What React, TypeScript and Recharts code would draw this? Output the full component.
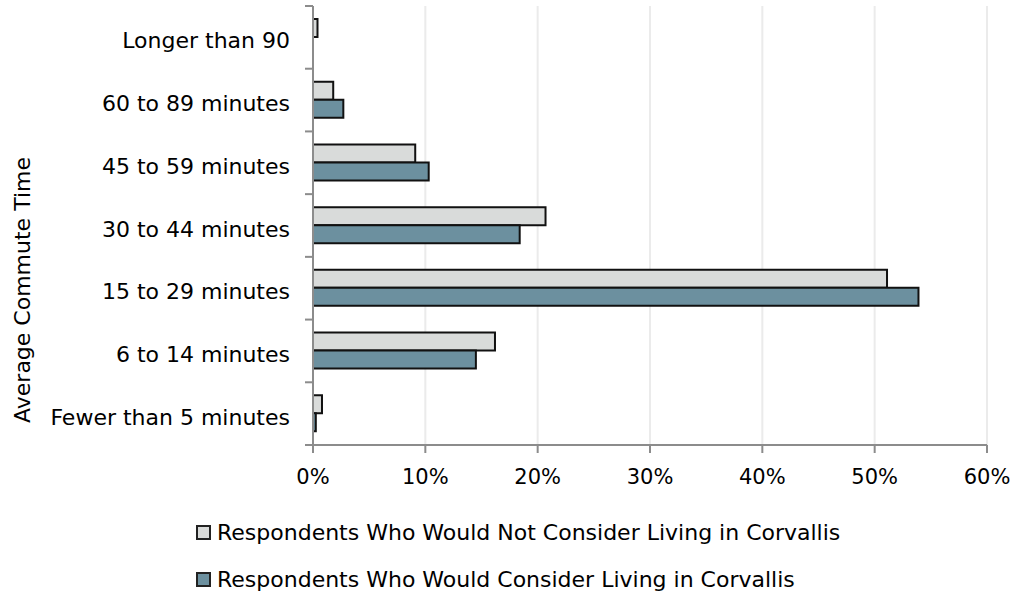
import React from 'react';
import { BarChart, Bar, XAxis, YAxis, CartesianGrid, Legend } from 'recharts';

const categories = [
  'Longer than 90',
  '60 to 89 minutes',
  '45 to 59 minutes',
  '30 to 44 minutes',
  '15 to 29 minutes',
  '6 to 14 minutes',
  'Fewer than 5 minutes',
];
const notConsider = [0.4, 1.8, 9.1, 20.7, 51.1, 16.2, 0.8];
const consider = [0, 2.7, 10.3, 18.4, 53.9, 14.5, 0.25];
const xTicks = [0, 10, 20, 30, 40, 50, 60];

const series = [
  { key: 'notConsider', name: 'Respondents Who Would Not Consider Living in Corvallis', color: '#d9dbda' },
  { key: 'consider', name: 'Respondents Who Would Consider Living in Corvallis', color: '#6c909f' },
];

const data = categories.map((name, i) => ({ name, notConsider: notConsider[i], consider: consider[i] }));

const FONT = '"DejaVu Sans", sans-serif';
const AXIS = '#8c8c8c';
const TOP = 6;
const PLOT_H = 439;
const HALF_BAND = PLOT_H / categories.length / 2;

// category label plus an Excel-style tick between bands
const CategoryTick = (props: any) => {
  const { x, y, payload, index } = props;
  const last = index === categories.length - 1;
  return (
    <g>
      <text x={x} y={y} dy="0.5em" textAnchor="end" fontSize={22} fill="#000" fontFamily={FONT}>
        {payload.value}
      </text>
      <line x1={x + 15} x2={x + 23} y1={y - HALF_BAND} y2={y - HALF_BAND} stroke={AXIS} strokeWidth={2} />
      {last && <line x1={x + 15} x2={x + 23} y1={y + HALF_BAND} y2={y + HALF_BAND} stroke={AXIS} strokeWidth={2} />}
    </g>
  );
};

const LegendBox = () => (
  <div style={{ fontFamily: FONT, fontSize: 22, color: '#000' }}>
    {series.map((s) => (
      <div key={s.key} style={{ display: 'flex', alignItems: 'center', height: 47 }}>
        <span
          style={{
            display: 'inline-block',
            width: 11,
            height: 11,
            background: s.color,
            border: '2px solid #222',
            marginRight: 6,
          }}
        />
        <span>{s.name}</span>
      </div>
    ))}
  </div>
);

export default function App() {
  return (
    <div style={{ position: 'absolute', left: 0, top: 0, width: 1026, height: 597, background: '#fff' }}>
      <BarChart
        width={1026}
        height={597}
        data={data}
        layout="vertical"
        margin={{ top: TOP, right: 39, left: 0, bottom: 112 }}
        barGap={0}
        barSize={18}
      >
        <CartesianGrid horizontal={false} stroke="#ebebeb" strokeWidth={2} />
        <XAxis
          type="number"
          domain={[0, 60]}
          ticks={xTicks}
          tickFormatter={(v) => `${v}%`}
          height={40}
          axisLine={{ stroke: AXIS, strokeWidth: 2 }}
          tickLine={{ stroke: AXIS, strokeWidth: 2 }}
          tickSize={8}
          tickMargin={16}
          tick={{ fill: '#000', fontSize: 21, fontFamily: FONT }}
        />
        <YAxis
          type="category"
          dataKey="name"
          width={313}
          axisLine={{ stroke: AXIS, strokeWidth: 2 }}
          tickLine={false}
          tickSize={8}
          tickMargin={15}
          tick={<CategoryTick />}
          interval={0}
          label={() => (
            <text
              x={30}
              y={290}
              transform="rotate(-90 30 290)"
              textAnchor="middle"
              fontSize={22}
              fontFamily={FONT}
              fill="#000"
            >
              Average Commute Time
            </text>
          )}
        />
        <Legend
          layout="horizontal"
          verticalAlign="middle"
          align="center"
          content={<LegendBox />}
          wrapperStyle={{ top: 509, left: 196, width: 'auto' }}
        />
        {series.map((s) => (
          <Bar
            key={s.key}
            dataKey={s.key}
            name={s.name}
            fill={s.color}
            stroke="#111"
            strokeWidth={2}
            isAnimationActive={false}
          />
        ))}
      </BarChart>
    </div>
  );
}
